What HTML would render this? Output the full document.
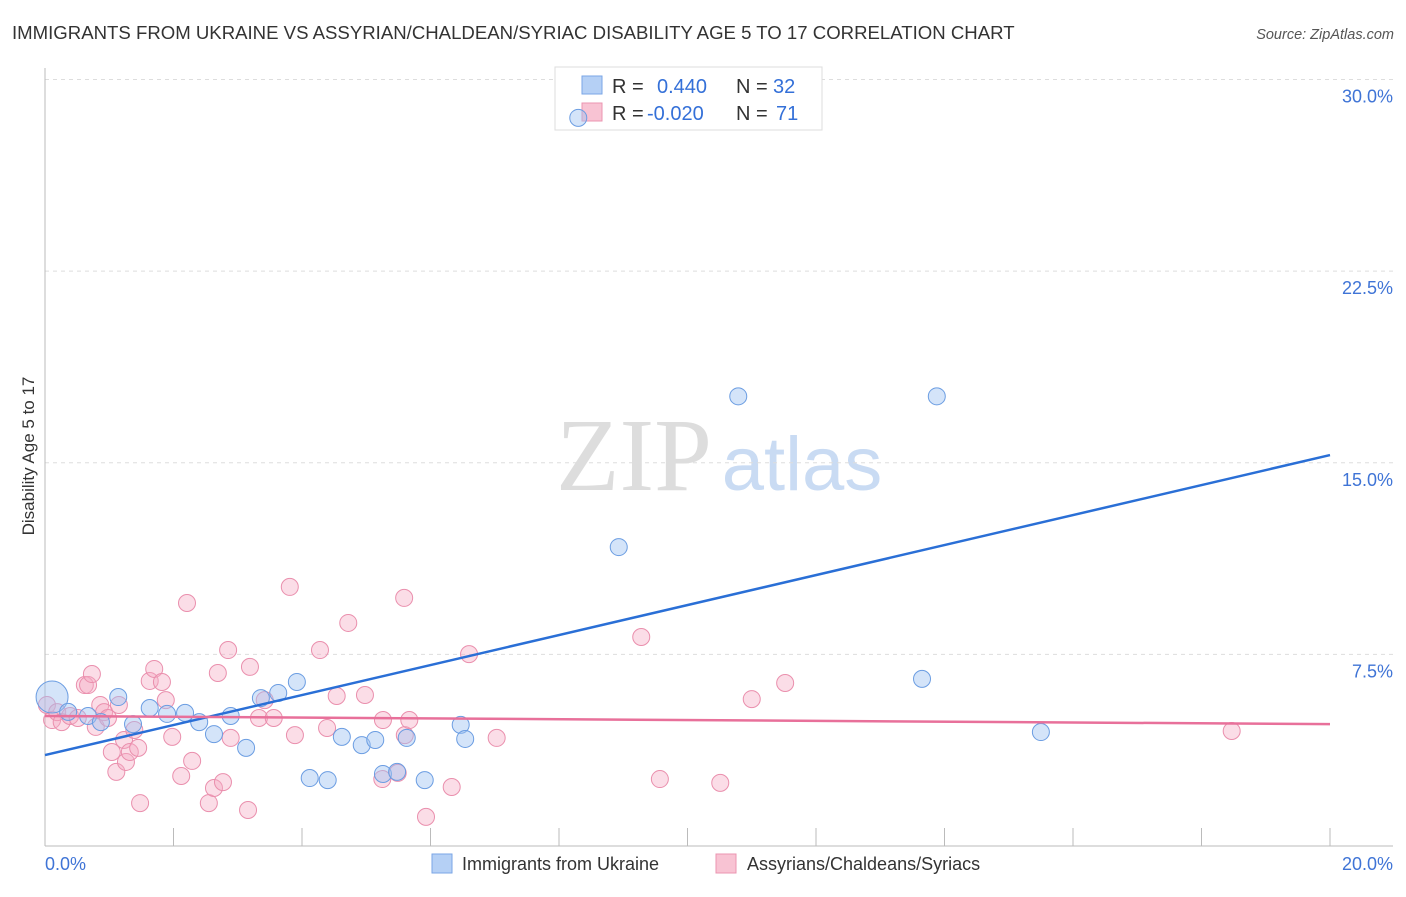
<!DOCTYPE html>
<html><head><meta charset="utf-8"><style>
body{margin:0;background:#fff;font-family:"Liberation Sans",sans-serif;}
</style></head><body>
<svg id="chart" width="1406" height="892" xmlns="http://www.w3.org/2000/svg" style="font-family:'Liberation Sans',sans-serif">
<text x="12" y="39" font-size="18.6" fill="#333">IMMIGRANTS FROM UKRAINE VS ASSYRIAN/CHALDEAN/SYRIAC DISABILITY AGE 5 TO 17 CORRELATION CHART</text>
<text x="1394" y="39" font-size="14.5" fill="#555" text-anchor="end" font-style="italic">Source: ZipAtlas.com</text>
<g>
<text x="634" y="490" font-size="104" fill="#ddd" text-anchor="middle" style="font-family:'Liberation Serif',serif">ZIP</text>
<text x="802" y="490" font-size="76" fill="#c9dbf3" text-anchor="middle">atlas</text>
</g>
<g id="grid"></g>
<g id="axes"></g>
<g>
<rect x="555" y="67" width="267" height="63" fill="#fff" stroke="#ddd"/>
<rect x="582" y="76" width="20" height="18" fill="#b5d0f5" stroke="#7aa6e6"/>
<rect x="582" y="103" width="20" height="18" fill="#f8c3d3" stroke="#eb94b0"/>
<text x="612" y="93" font-size="20" fill="#333">R = </text><text x="657" y="93" font-size="20" fill="#3470d8">0.440</text>
<text x="736" y="93" font-size="20" fill="#333">N = </text><text x="773" y="93" font-size="20" fill="#3470d8">32</text>
<text x="612" y="120" font-size="20" fill="#333">R = </text><text x="647" y="120" font-size="20" fill="#3470d8">-0.020</text>
<text x="736" y="120" font-size="20" fill="#333">N = </text><text x="776" y="120" font-size="20" fill="#3470d8">71</text>
</g>
<g id="pink"></g>
<g id="blue"></g>
<g id="trends"></g>
<text transform="translate(34,456) rotate(-90)" font-size="17" fill="#333" text-anchor="middle">Disability Age 5 to 17</text>
<g>
<rect x="432" y="854" width="20" height="19" fill="#b5d0f5" stroke="#7aa6e6"/>
<text x="462" y="870" font-size="18" fill="#333">Immigrants from Ukraine</text>
<rect x="716" y="854" width="20" height="19" fill="#f8c3d3" stroke="#eb94b0"/>
<text x="747" y="870" font-size="18" fill="#333">Assyrians/Chaldeans/Syriacs</text>
</g>
</svg>
<script>
const yTicks=[7.5,15,22.5,30];
const yTickLabels=["7.5%","15.0%","22.5%","30.0%"];
const xTicks=[0,2,4,6,8,10,12,14,16,18,20];
const xEndLabels=["0.0%","20.0%"];
const blueX=[0.11,0.36,0.67,0.87,1.14,1.37,1.63,1.90,2.18,2.40,2.63,2.89,3.13,3.36,3.63,3.92,4.12,4.40,4.62,4.93,5.14,5.26,5.48,5.63,5.91,6.47,6.54,8.30,8.93,10.79,13.65,13.88,15.50];
const blueY=[5.83,5.25,5.09,4.85,5.83,4.77,5.40,5.17,5.21,4.85,4.38,5.09,3.84,5.79,5.99,6.42,2.66,2.58,4.27,3.95,4.15,2.82,2.90,4.23,2.58,4.74,4.19,28.5,11.7,17.6,6.54,17.6,4.46];
const pinkX=[0.03,0.11,0.19,0.26,0.39,0.51,0.62,0.67,0.73,0.79,0.86,0.92,0.98,1.04,1.11,1.15,1.23,1.26,1.32,1.39,1.45,1.48,1.63,1.70,1.82,1.88,1.98,2.12,2.21,2.29,2.55,2.63,2.69,2.77,2.85,2.89,3.16,3.19,3.33,3.42,3.56,3.81,3.89,4.28,4.39,4.54,4.72,4.98,5.25,5.26,5.49,5.59,5.60,5.67,5.93,6.33,6.60,7.03,9.28,9.57,10.51,11.00,11.52,18.47];
const pinkY=[5.52,4.93,5.24,4.85,5.09,5.01,6.30,6.30,6.73,4.66,5.52,5.24,5.01,3.68,2.90,5.52,4.15,3.29,3.68,4.54,3.84,1.68,6.46,6.93,6.42,5.71,4.27,2.74,9.51,3.33,1.68,2.27,6.77,2.50,7.67,4.23,1.41,7.01,5.01,5.71,5.01,10.14,4.34,7.67,4.62,5.87,8.73,5.91,2.62,4.93,2.86,9.71,4.34,4.93,1.14,2.31,7.51,4.23,8.18,2.62,2.47,5.75,6.38,4.50];
const blueTrend=[3.56,15.30];
const pinkTrend=[5.09,4.77];
const NS="http://www.w3.org/2000/svg";
const X=v=>45+v*64.25, Y=v=>846-v*25.55;
function mk(tag,attrs,parent){const e=document.createElementNS(NS,tag);for(const k in attrs)e.setAttribute(k,attrs[k]);document.getElementById(parent).appendChild(e);return e;}
yTicks.forEach((t,i)=>{
 let l=mk('line',{x1:45,x2:1393,y1:Y(t),y2:Y(t),stroke:'#ddd','stroke-dasharray':'4,4'},'grid');
 
 
 let tx=mk('text',{x:1393,y:Y(t)+23,'font-size':18,fill:'#3f74d6','text-anchor':'end'},'grid');
 tx.textContent=yTickLabels[i];
 
 
});
let ax=mk('line',{x1:45,x2:1393,y1:846,y2:846,stroke:'#bbb'},'axes');


let ay=mk('line',{x1:45,x2:45,y1:68,y2:846,stroke:'#bbb'},'axes');


xTicks.forEach(t=>{let l=mk('line',{x1:X(t),x2:X(t),y1:828,y2:846,stroke:'#bbb'},'axes');
 
 });
let t0=mk('text',{x:45,y:870,'font-size':18,fill:'#3f74d6'},'axes');t0.textContent=xEndLabels[0];


let t1=mk('text',{x:1393,y:870,'font-size':18,fill:'#3f74d6','text-anchor':'end'},'axes');t1.textContent=xEndLabels[1];


pinkX.forEach((v,i)=>{let c=mk('circle',{cx:X(v),cy:Y(pinkY[i]),r:8.5,fill:'rgba(246,170,196,0.4)',stroke:'#ea8fad','stroke-width':1},'pink');
 
 });
blueX.forEach((v,i)=>{let c=mk('circle',{cx:X(v),cy:Y(blueY[i]),r:i===0?16:8.5,fill:'rgba(160,196,242,0.45)',stroke:'#6b9de2','stroke-width':1},'blue');
 
 });
let bl=mk('line',{x1:X(0),y1:Y(blueTrend[0]),x2:X(20),y2:Y(blueTrend[1]),stroke:'#2a6fd6','stroke-width':2.5},'trends');


let pl=mk('line',{x1:X(0),y1:Y(pinkTrend[0]),x2:X(20),y2:Y(pinkTrend[1]),stroke:'#e8709a','stroke-width':2.5},'trends');


</script>
</body></html>
